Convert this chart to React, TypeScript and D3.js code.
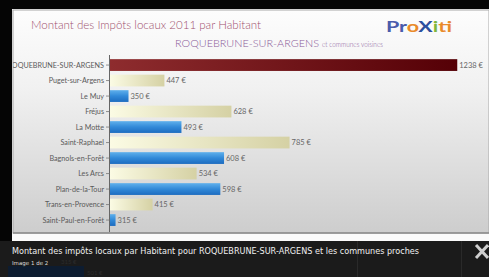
import React from 'react'
import { scaleLinear, scaleBand } from 'd3'

const communes = [
  'ROQUEBRUNE-SUR-ARGENS',
  'Puget-sur-Argens',
  'Le Muy',
  'Fréjus',
  'La Motte',
  'Saint-Raphael',
  'Bagnols-en-Forêt',
  'Les Arcs',
  'Plan-de-la-Tour',
  'Trans-en-Provence',
  'Saint-Paul-en-Forêt'
]
const impots = [1238, 447, 350, 628, 493, 785, 608, 534, 598, 415, 315]

const title = 'Montant des Impôts locaux 2011 par Habitant'
const subCommune = 'ROQUEBRUNE-SUR-ARGENS'
const subRest = 'et communes voisines'
const caption = 'Montant des impôts locaux par Habitant pour ROQUEBRUNE-SUR-ARGENS et les communes proches'
const logo = [['Pr', '#4b5cab'], ['o', '#e98a2a'], ['X', '#2c4f9e'], ['i', '#7fb63a'], ['t', '#e98a2a'], ['i', '#7fb63a']]

const W = 489, H = 277
const font = 'Lato, "Open Sans", sans-serif'

export default function App () {
  const x = scaleLinear().domain([300, 1240]).range([110, 458])
  const y = scaleBand<string>().domain(communes).range([57.3, 227.8]).paddingInner(0.24).paddingOuter(0.12)

  const fillFor = (i: number) => (i === 0 ? 'url(#gRed)' : i % 2 === 1 ? 'url(#gCream)' : 'url(#gBlue)')

  return (
    <svg width={W} height={H} style={{ position: 'absolute', left: 0, top: 0, display: 'block' }}>
      <defs>
        <linearGradient id="gBg" x1="0" y1="0" x2="0" y2="1">
          <stop offset="0" stopColor="#fdfdfd" />
          <stop offset="0.35" stopColor="#f1f1f1" />
          <stop offset="1" stopColor="#cdcdcd" />
        </linearGradient>
        <linearGradient id="gRed" x1="0" y1="0" x2="1" y2="0">
          <stop offset="0" stopColor="#8e2c2e" />
          <stop offset="1" stopColor="#550006" />
        </linearGradient>
        <linearGradient id="gCream" x1="0" y1="0" x2="1" y2="0">
          <stop offset="0" stopColor="#fbfbe4" />
          <stop offset="1" stopColor="#d5d1a4" />
        </linearGradient>
        <linearGradient id="gBlue" x1="0" y1="0" x2="0" y2="1">
          <stop offset="0" stopColor="#5fb0ec" />
          <stop offset="0.5" stopColor="#3189d8" />
          <stop offset="1" stopColor="#1d6cc0" />
        </linearGradient>
        <clipPath id="panel">
          <rect x={13} y={10} width={W - 13} height={223} />
        </clipPath>
      </defs>

      <rect x={0} y={0} width={W} height={H} fill="#050505" />
      {/* chart panel */}
      <rect x={12} y={9} width={W - 12} height={232} fill="#fafafa" />
      <rect x={13} y={10} width={W - 13} height={223} fill="url(#gBg)" stroke="#a8a8a8" strokeWidth={1} />
      <line x1={13} x2={W} y1={233} y2={233} stroke="#8a8a8a" strokeWidth={1.5} />

      <g clipPath="url(#panel)">
        <text x={31} y={29} fontFamily={font} fontSize={12.5} fill="#a0506e" fontWeight={300} textLength={230} lengthAdjust="spacingAndGlyphs">{title}</text>
        <text x={175} y={47} fontFamily={font} fontWeight={300} fontSize={9} fill="#8a5a98" textLength={144} lengthAdjust="spacingAndGlyphs">{subCommune}</text>
        <text x={322} y={47} fontFamily={font} fontWeight={300} fontSize={7.5} fill="#8a5a98" textLength={61} lengthAdjust="spacingAndGlyphs">{subRest}</text>
        <text x={386} y={32} fontFamily={font} fontSize={16} fontWeight={700} textLength={66} lengthAdjust="spacingAndGlyphs">
          {logo.map(([t, c], k) => (
            <tspan key={k} fill={c} fontSize={16}>{t}</tspan>
          ))}
        </text>

        <line x1={109.5} x2={109.5} y1={55} y2={232} stroke="#666" strokeWidth={1} />
        {communes.map((c, i) => {
          const cy = (y(c) as number) + y.bandwidth() / 2
          return (
            <g key={c}>
              <line x1={106} x2={109.5} y1={cy} y2={cy} stroke="#777" strokeWidth={0.8} />
              <text x={104} y={cy} dy="0.35em" textAnchor="end" fontFamily={font} fontSize={7.2} fill="#5a5a5a">{c}</text>
              <rect x={x(300)} y={y(c)} width={x(impots[i]) - x(300)} height={y.bandwidth()} fill={fillFor(i)} />
              <text x={x(impots[i]) + 2} y={cy} dy="0.35em" fontFamily={font} fontSize={7.5} fill="#666">{impots[i]} €</text>
            </g>
          )
        })}
      </g>

      {/* lightbox caption */}
      <rect x={0} y={241} width={W} height={36} fill="#1b1b1b" />
      <rect x={8} y={266} width={76} height={11} fill="#0d1c30" />
      <text x={61} y={264} fontFamily={font} fontSize={6} fill="#2c2c2c">315 €</text>
      <text x={87} y={275} fontFamily={font} fontSize={6} fill="#2c2c2c">501 €</text>
      <line x1={357.5} x2={357.5} y1={241} y2={H} stroke="#2a2a2a" />
      <line x1={461.5} x2={461.5} y1={241} y2={H} stroke="#2a2a2a" />
      <text x={12} y={254} fontFamily="Tahoma, 'DejaVu Sans', sans-serif" fontSize={9} fill="#f0f0f0" textLength={407} lengthAdjust="spacingAndGlyphs">{caption}</text>
      <text x={12} y={264.5} fontFamily="'DejaVu Sans', sans-serif" fontSize={5.5} fill="#dcdcdc">Image 1 de 2</text>
      <g stroke="#cfcfcf" strokeWidth={3}>
        <line x1={476} y1={245} x2={488} y2={258} />
        <line x1={488} y1={245} x2={476} y2={258} />
      </g>
    </svg>
  )
}
